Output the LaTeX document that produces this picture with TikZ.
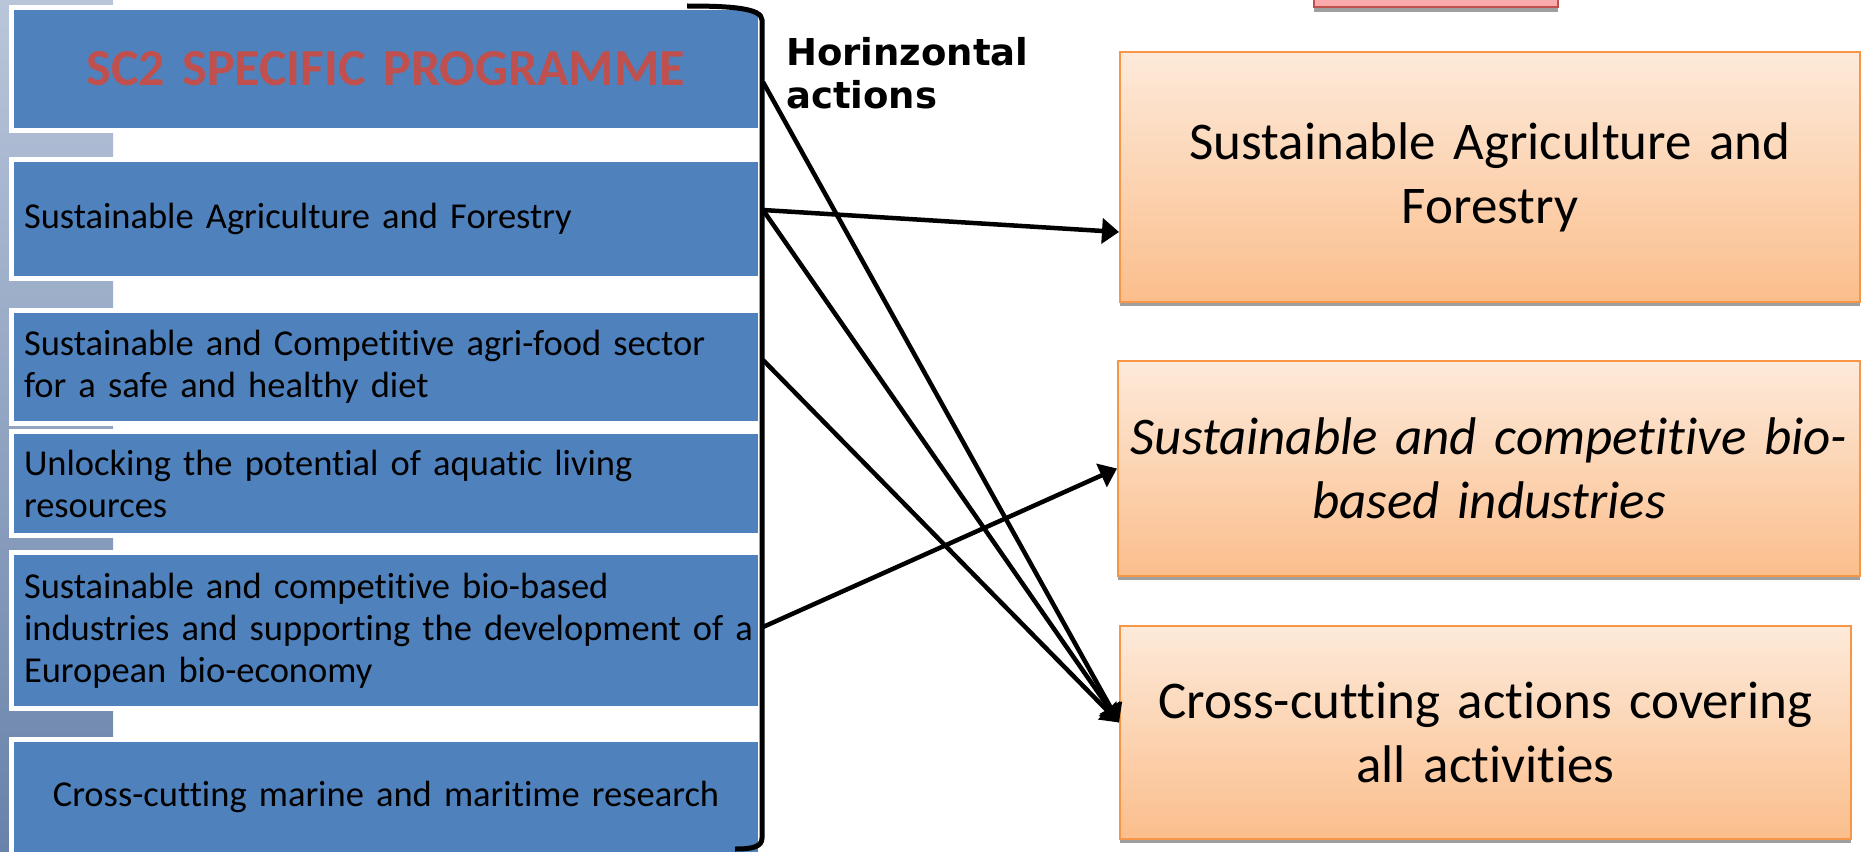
\documentclass[tikz,border=0pt]{standalone}
\usepackage{fontspec}
\setmainfont{Carlito}[Ligatures=NoCommon]
\newfontfamily\hfont{DejaVu Sans}
\usetikzlibrary{arrows.meta}

\definecolor{boxblue}{RGB}{79,129,189}
\definecolor{titlered}{RGB}{192,80,77}
\definecolor{peachtop}{RGB}{253,234,218}
\definecolor{peachbot}{RGB}{251,190,140}
\definecolor{peachline}{RGB}{247,150,70}
\definecolor{stripA}{RGB}{185,198,218}
\definecolor{stripB}{RGB}{105,130,170}
\definecolor{pinkfill}{RGB}{250,170,170}

\begin{document}
\begin{tikzpicture}[x=1pt,y=-1pt,
    leftbox/.style={draw=white,line width=5pt,fill=boxblue,minimum width=749pt,
        inner xsep=12.5pt,text width=724pt,align=left,font=\fontsize{36.5}{42}\selectfont},
    rightbox/.style={draw=peachline,line width=2pt,top color=peachtop,bottom color=peachbot,
        preaction={fill=gray!75,transform canvas={yshift=-4pt}},
        text width=720pt,align=center,font=\fontsize{53}{64}\selectfont},
    arr/.style={line width=4.5pt,-{Triangle[length=17pt,width=25pt]}}]
    \useasboundingbox (0,0) rectangle (1865,851);
    \clip (0,0) rectangle (1865,851);

    % photo strip behind the list
    \shade[top color=stripA,bottom color=stripB] (0,0) rectangle (113,851);

    % programme list
    \node[leftbox,minimum height=123pt,align=center,text=titlered,
        font=\bfseries\fontsize{52}{60}\selectfont] (sc2) at (386,69) {SC2 SPECIFIC PROGRAMME};
    \node[leftbox,minimum height=119pt] (agri) at (386,219) {Sustainable Agriculture and Forestry};
    \node[leftbox,minimum height=113pt] (food) at (386,367)
        {Sustainable and Competitive agri-food sector\\for a safe and healthy diet};
    \node[leftbox,minimum height=104pt] (aqua) at (386,483.5)
        {Unlocking the potential of aquatic living\\resources};
    \node[leftbox,minimum height=156pt] (bio) at (386,630.5)
        {Sustainable and competitive bio-based\\\mbox{industries and supporting the development of a}\\European bio-economy};
    \node[leftbox,minimum height=115pt,align=center] (marine) at (386,797)
        {Cross-cutting marine and maritime research};

    % activities
    \fill[gray!75] (1314,7) rectangle (1558,12);
    \filldraw[fill=pinkfill,draw=titlered,line width=1.5pt] (1314,-20) rectangle (1558,7);
    \node[rightbox,minimum width=740pt,minimum height=250pt] (r1) at (1490,177)
        {Sustainable Agriculture and\\Forestry};
    \node[rightbox,minimum width=742pt,minimum height=215pt,
        font=\itshape\fontsize{53}{64}\selectfont] (r2) at (1489,468.5)
        {Sustainable and competitive bio-\\based industries};
    \node[rightbox,minimum width=731pt,minimum height=213pt] (r3) at (1485.5,732.5)
        {Cross-cutting actions covering\\all activities};

    \node[anchor=north west,inner sep=0pt,align=left,
        font=\hfont\bfseries\fontsize{37}{43}\selectfont] (horiz) at (786,37) {Horinzontal\\actions};

    % bracket
    \draw[line width=5pt] (687,6) .. controls (730,6) and (762,8) .. (762,20)
        -- (762,838) .. controls (762,847) and (752,849) .. (735,849);

    \coordinate (s1) at (763,82);
    \coordinate (s2) at (763,210);
    \coordinate (s3) at (763,360);
    \coordinate (s4) at (763,627);
    \coordinate (t1) at ([yshift=-55pt]r1.west);
    \coordinate (t2) at (r2.west);
    \coordinate (t3) at ([yshift=10pt]r3.west);

    \draw[arr] (s1) -- (t3);
    \draw[arr] (s2) -- (t1);
    \draw[arr] (s2) -- (t3);
    \draw[arr] (s3) -- (t3);
    \draw[arr] (s4) -- (t2);
\end{tikzpicture}
\end{document}
